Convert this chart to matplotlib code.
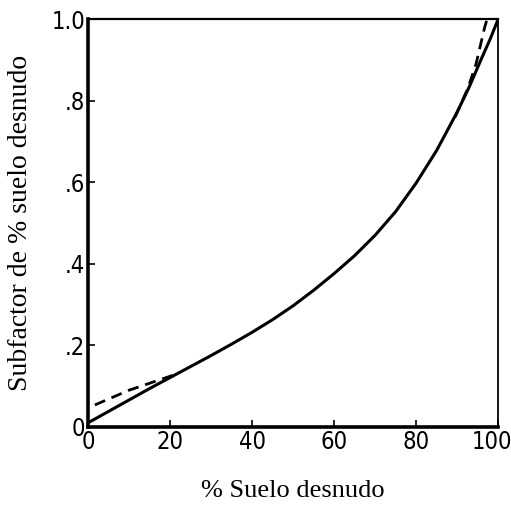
import matplotlib.pyplot as plt
from matplotlib.transforms import ScaledTranslation

# solid curve
bare_pct = [0, 5, 10, 15, 20, 25, 30, 35, 40, 45, 50, 55, 60, 65, 70, 75,
            80, 85, 90, 93, 96, 98, 100]
subfactor = [0.010, 0.038, 0.066, 0.094, 0.121, 0.148, 0.175, 0.203, 0.232,
             0.263, 0.297, 0.335, 0.376, 0.420, 0.470, 0.528, 0.598, 0.678,
             0.772, 0.835, 0.905, 0.950, 1.0]

# dashed segments (approximation lines)
dash_low_x = [1.7, 10, 21.7]
dash_low_y = [0.054, 0.09, 0.13]
dash_high_x = [89.5, 92.6, 94.6, 96.7, 97.3]
dash_high_y = [0.76, 0.83, 0.89, 0.98, 1.0]

xticks = [0, 20, 40, 60, 80, 100]
yticks = [0, 0.2, 0.4, 0.6, 0.8, 1.0]
ytick_labels = ["0", ".2", ".4", ".6", ".8", "1.0"]

fig = plt.figure(figsize=(5.11, 5.23), dpi=100)
ax = fig.add_axes([0.172, 0.1836, 0.803, 0.780])

ax.plot(bare_pct, subfactor, color="black", linewidth=2.2)
ax.plot(dash_low_x, dash_low_y, color="black", linewidth=2.0, linestyle=(0, (4, 2.5)))
ax.plot(dash_high_x, dash_high_y, color="black", linewidth=2.0, linestyle=(0, (4, 2.5)))

ax.set_xlim(0, 100)
ax.set_ylim(0, 1.0)
ax.set_xticks(xticks)
ax.set_yticks(yticks)
ax.set_yticklabels(ytick_labels)
ax.tick_params(direction="in", length=5, width=1.2, labelsize=17)
ax.tick_params(axis="x", pad=2)
ax.tick_params(axis="y", pad=2)
for lab in ax.get_xticklabels() + ax.get_yticklabels():
    lab.set_family("DejaVu Sans")
    lab.set_stretch("condensed")

# the "100" sits tight against the right edge; nudge it in a little
last = ax.get_xticklabels()[-1]
last.set_transform(last.get_transform() + ScaledTranslation(-0.06, 0, fig.dpi_scale_trans))

ax.spines["left"].set_linewidth(2.6)
ax.spines["bottom"].set_linewidth(2.6)
ax.spines["top"].set_linewidth(1.6)
ax.spines["right"].set_linewidth(1.3)

ax.set_xlabel("% Suelo desnudo", family="Liberation Serif", fontsize=19, labelpad=19)
ax.set_ylabel("Subfactor de % suelo desnudo", family="Liberation Serif", fontsize=20, labelpad=13)

fig.savefig("out.png", dpi=100)
